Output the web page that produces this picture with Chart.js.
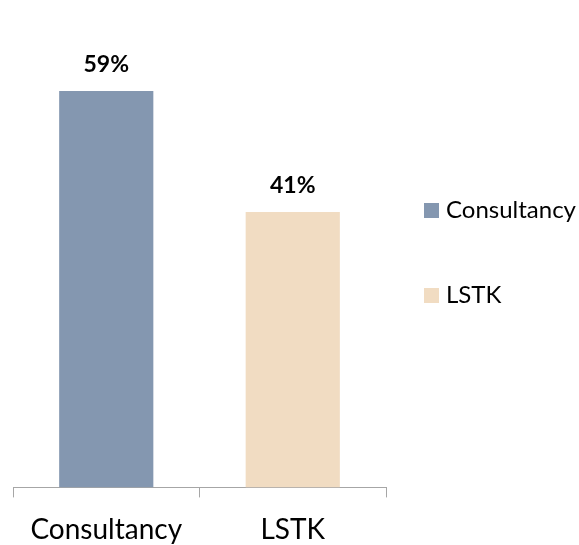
<!DOCTYPE html>
<html>
<head>
<meta charset="utf-8">
<script src="https://cdn.jsdelivr.net/npm/chart.js@4"></script>
<style>
  html, body { margin: 0; padding: 0; background: #fff; }
  #wrap { width: 579px; height: 545px; }
</style>
</head>
<body>
<div id="wrap"><canvas id="chart" width="579" height="545"></canvas></div>
<script>
const categories = ['Consultancy', 'LSTK'];
const shares = [59, 41];
const barColors = ['#8497B0', '#F1DCC2'];
const yMax = 70;

const fontFamily = 'Lato, "Open Sans", sans-serif';

// value labels above each bar
const valueLabels = {
    id: 'valueLabels',
    afterDatasetsDraw(chart) {
        const ctx = chart.ctx;
        const meta = chart.getDatasetMeta(0);
        ctx.save();
        ctx.font = 'bold 23px ' + fontFamily;
        ctx.fillStyle = '#000';
        ctx.textAlign = 'center';
        ctx.textBaseline = 'alphabetic';
        meta.data.forEach((bar, i) => {
            ctx.fillText(shares[i] + '%', bar.x, bar.y - 19);
        });
        ctx.restore();
    }
};

// legend on the right, one entry per category
const sideLegend = {
    id: 'sideLegend',
    afterDraw(chart) {
        const ctx = chart.ctx;
        const x = 424;
        const startY = 210;
        const step = 85;
        ctx.save();
        ctx.font = '24px ' + fontFamily;
        ctx.textBaseline = 'alphabetic';
        ctx.textAlign = 'left';
        categories.forEach((label, i) => {
            const y = startY + i * step;
            ctx.fillStyle = barColors[i];
            ctx.fillRect(x, y - 7, 15, 15);
            ctx.fillStyle = '#000';
            ctx.fillText(label, x + 22, y + 8);
        });
        ctx.restore();
    }
};

const chart = new Chart(document.getElementById('chart'), {
    type: 'bar',
    data: {
        labels: categories,
        datasets: [{
            label: 'Share',
            data: shares,
            backgroundColor: barColors,
            categoryPercentage: 1,
            barPercentage: 0.505
        }]
    },
    options: {
        responsive: false,
        animation: false,
        layout: { padding: { left: 13, right: 193, top: 17, bottom: -18 } },
        plugins: {
            legend: { display: false },
            tooltip: { enabled: false }
        },
        scales: {
            x: {
                grid: {
                    offset: true,
                    drawOnChartArea: false,
                    tickLength: 10,
                    color: '#A6A6A6'
                },
                border: { color: '#A6A6A6', width: 1 },
                ticks: {
                    color: '#000',
                    font: { family: fontFamily, size: 28 },
                    padding: 16
                }
            },
            y: {
                display: false,
                min: 0,
                max: yMax
            }
        }
    },
    plugins: [valueLabels, sideLegend]
});
</script>
</body>
</html>
